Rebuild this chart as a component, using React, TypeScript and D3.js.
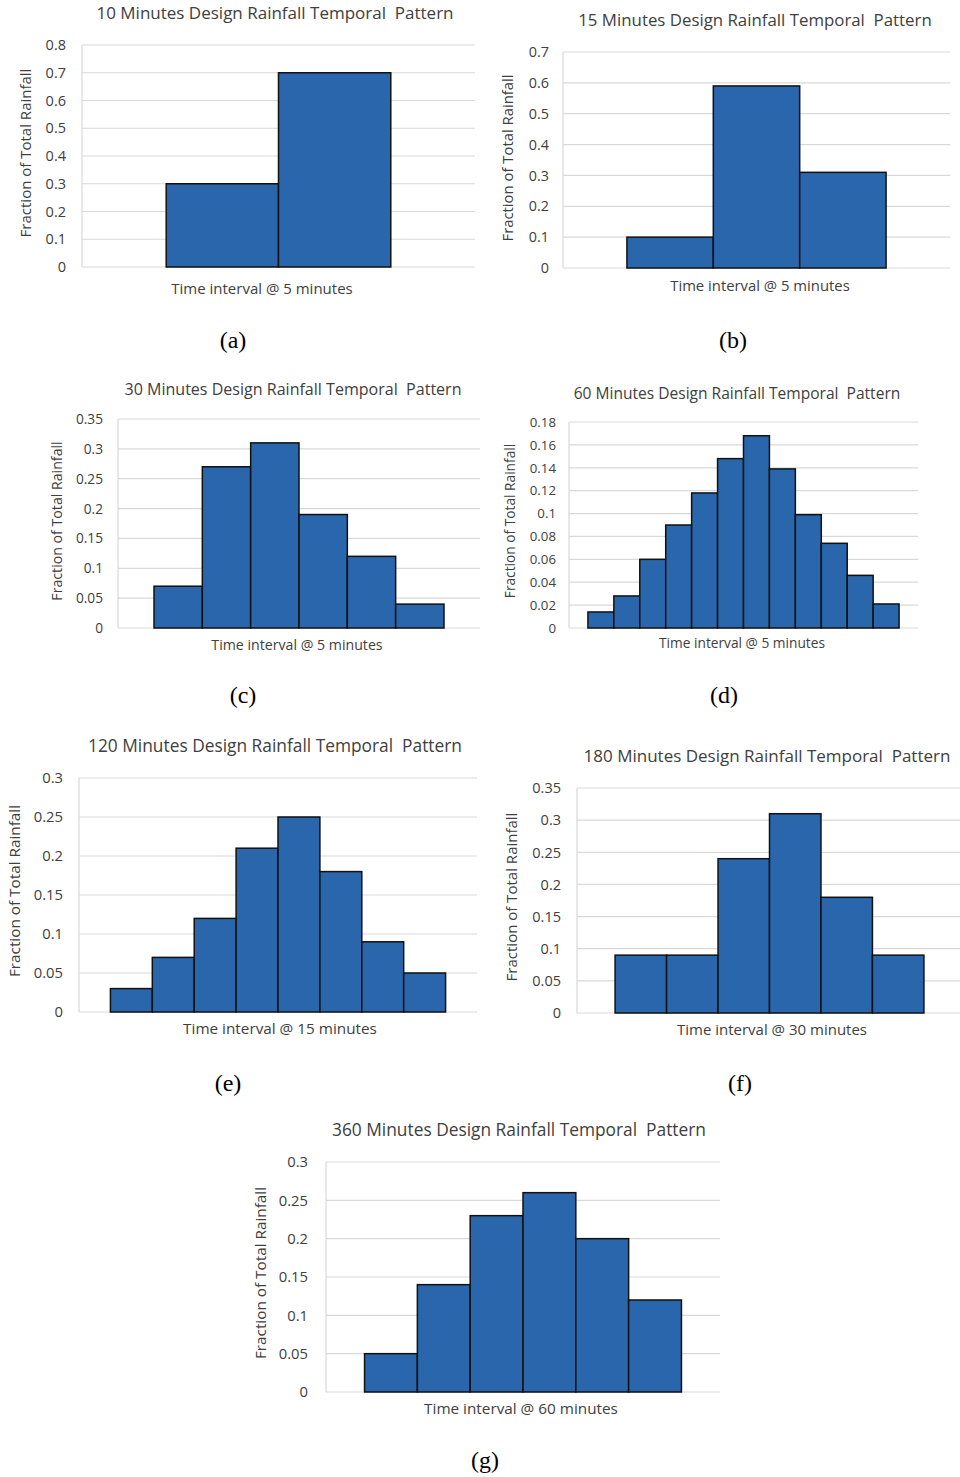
import React from "react";
import * as d3 from "d3";

// Fraction of total rainfall per time interval
const pattern10 = [0.3, 0.7];
const pattern15 = [0.1, 0.59, 0.31];
const pattern30 = [0.07, 0.27, 0.31, 0.19, 0.12, 0.04];
const pattern60 = [0.014, 0.028, 0.06, 0.09, 0.118, 0.148, 0.168, 0.139, 0.099, 0.074, 0.046, 0.021];
const pattern120 = [0.03, 0.07, 0.12, 0.21, 0.25, 0.18, 0.09, 0.05];
const pattern180 = [0.09, 0.09, 0.24, 0.31, 0.18, 0.09];
const pattern360 = [0.05, 0.14, 0.23, 0.26, 0.2, 0.12];

const titles = [
  "10 Minutes Design Rainfall Temporal  Pattern",
  "15 Minutes Design Rainfall Temporal  Pattern",
  "30 Minutes Design Rainfall Temporal  Pattern",
  "60 Minutes Design Rainfall Temporal  Pattern",
  "120 Minutes Design Rainfall Temporal  Pattern",
  "180 Minutes Design Rainfall Temporal  Pattern",
  "360 Minutes Design Rainfall Temporal  Pattern",
];
const xTitles = [
  "Time interval @ 5 minutes",
  "Time interval @ 5 minutes",
  "Time interval @ 5 minutes",
  "Time interval @ 5 minutes",
  "Time interval @ 15 minutes",
  "Time interval @ 30 minutes",
  "Time interval @ 60 minutes",
];
const yMaxes = [0.8, 0.7, 0.35, 0.18, 0.3, 0.35, 0.3];
const yStepSizes = [0.1, 0.1, 0.05, 0.02, 0.05, 0.05, 0.05];
const letters = ["(a)", "(b)", "(c)", "(d)", "(e)", "(f)", "(g)"];
const yTitle = "Fraction of Total Rainfall";

const seriesList = [pattern10, pattern15, pattern30, pattern60, pattern120, pattern180, pattern360];

// layout per panel
const layouts = [
  { s: 1, left: 82, right: 475, top: 45, bottom: 267, pad: 0.75, titleX: 275, titleY: 13, yLabX: 26, yLabY: 153, tickR: 66, xLabX: 262, xLabY: 289, letX: 233, letY: 340 },
  { s: 0.99, left: 563, right: 950, top: 52, bottom: 268, pad: 0.74, titleX: 755, titleY: 20, yLabX: 508, yLabY: 158, tickR: 549, xLabX: 760, xLabY: 286, letX: 733, letY: 340 },
  { s: 0.945, left: 118, right: 480, top: 419, bottom: 628, pad: 0.745, titleX: 293, titleY: 389, yLabX: 57, yLabY: 521, tickR: 103, xLabX: 297, xLabY: 645, letX: 243, letY: 695 },
  { s: 0.915, left: 569, right: 918, top: 422, bottom: 628, pad: 0.73, titleX: 737, titleY: 393, yLabX: 510, yLabY: 521, tickR: 556, xLabX: 742, xLabY: 643, letX: 724, letY: 695 },
  { s: 1.02, left: 79, right: 477, top: 778, bottom: 1012, pad: 0.75, titleX: 275, titleY: 746, yLabX: 14, yLabY: 891, tickR: 63, xLabX: 280, xLabY: 1028, letX: 228, letY: 1083 },
  { s: 1, left: 577, right: 962, top: 788, bottom: 1013, pad: 0.74, titleX: 767, titleY: 756, yLabX: 512, yLabY: 897, tickR: 561, xLabX: 772, xLabY: 1030, letX: 740, letY: 1083 },
  { s: 1.02, left: 326, right: 720, top: 1162, bottom: 1392, pad: 0.73, titleX: 519, titleY: 1130, yLabX: 260, yLabY: 1273, tickR: 308, xLabX: 521, xLabY: 1408, letX: 485, letY: 1460 },
];

const FONT = "'Open Sans', 'Noto Sans', sans-serif";
const BAR = "#2A66AC";

function Panel({ i }: { i: number }) {
  const data = seriesList[i];
  const L = layouts[i];
  const x = d3
    .scaleBand<number>()
    .domain(d3.range(data.length))
    .range([L.left, L.right])
    .paddingInner(0)
    .paddingOuter(L.pad);
  const y = d3.scaleLinear().domain([0, yMaxes[i]]).range([L.bottom, L.top]);
  const n = Math.round(yMaxes[i] / yStepSizes[i]);
  const ticks = d3.range(n + 1).map((k) => +(k * yStepSizes[i]).toFixed(3));
  const fmt = (v: number) => String(+v.toFixed(3));
  return (
    <g>
      {ticks.map((t) => (
        <line key={"g" + t} x1={L.left} x2={L.right} y1={y(t)} y2={y(t)} stroke="#d9d9d9" strokeWidth={1.2} />
      ))}
      <line x1={L.left} x2={L.left} y1={L.top} y2={L.bottom} stroke="#d9d9d9" strokeWidth={1.2} />
      {ticks.map((t) => (
        <text key={"t" + t} x={L.tickR} y={y(t)} dy="0.36em" textAnchor="end" fontSize={14.5 * L.s} fill="#404040" fontFamily={FONT}>
          {fmt(t)}
        </text>
      ))}
      {data.map((v, k) => (
        <rect key={k} x={x(k)} y={y(v)} width={x.bandwidth()} height={y(0) - y(v)} fill={BAR} stroke="#111" strokeWidth={1.5} />
      ))}
      <text x={L.titleX} y={L.titleY} dy="0.36em" textAnchor="middle" fontSize={17 * L.s} fill="#404040" fontFamily={FONT} style={{ whiteSpace: "pre" }}>
        {titles[i]}
      </text>
      <text x={L.xLabX} y={L.xLabY} dy="0.36em" textAnchor="middle" fontSize={15 * L.s} fill="#404040" fontFamily={FONT}>
        {xTitles[i]}
      </text>
      <text
        transform={`translate(${L.yLabX},${L.yLabY}) rotate(-90)`}
        dy="0.36em"
        textAnchor="middle"
        fontSize={15 * L.s}
        fill="#404040"
        fontFamily={FONT}
      >
        {yTitle}
      </text>
      <text x={L.letX} y={L.letY} dy="0.35em" textAnchor="middle" fontSize={24} fill="#000" fontFamily="'Liberation Serif', 'DejaVu Serif', serif">
        {letters[i]}
      </text>
    </g>
  );
}

export default function App() {
  return (
    <svg width={960} height={1477} style={{ position: "absolute", left: 0, top: 0, background: "#fff" }}>
      <rect x={0} y={0} width={960} height={1477} fill="#fff" />
      {seriesList.map((_, i) => (
        <Panel key={i} i={i} />
      ))}
    </svg>
  );
}
